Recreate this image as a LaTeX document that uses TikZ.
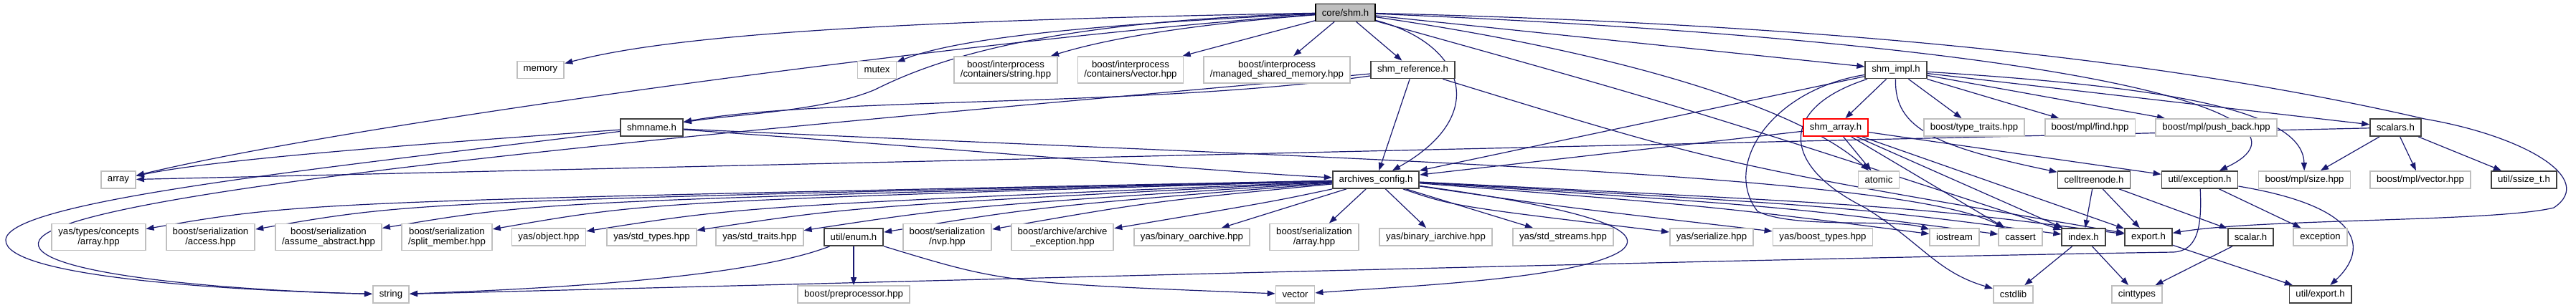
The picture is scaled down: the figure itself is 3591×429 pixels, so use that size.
\documentclass[tikz,border=0pt]{standalone}
\usepackage{fontspec}
\setmainfont{Liberation Sans}
\usetikzlibrary{arrows.meta,calc}
\pgfdeclarelayer{edges}
\pgfsetlayers{edges,main}

\definecolor{edgeblue}{HTML}{191970}
\definecolor{sysgray}{HTML}{BFBFBF}
\definecolor{docgray}{HTML}{404040}

\tikzset{
  file/.style={draw, fill=white, line width=1.8pt, inner xsep=9pt, inner ysep=0pt,
    minimum height=24pt, align=center, font=\fontsize{13.2}{13.8}\selectfont},
  sysfile/.style={file, draw=sysgray},
  docfile/.style={file, draw=docgray},
  twoline/.style={minimum height=37pt},
  edge/.style={draw=edgeblue, line width=1.2pt, -{Triangle[length=11pt,width=8pt]}}
}

\begin{document}
\begin{tikzpicture}[x=1pt,y=-1pt]
\useasboundingbox (0,0) rectangle (3591,429);

% row 1
\node[docfile, draw=black, fill=sysgray] (cs) at (1875.5,17.5) {core/shm.h};

% row 2
\node[sysfile] (memory) at (753.5,97.5) {memory};
\node[sysfile] (mutex) at (1222.5,97.5) {mutex};
\node[sysfile, twoline] (ipstring) at (1402,97.5) {boost/interprocess\\/containers/string.hpp};
\node[sysfile, twoline] (ipvector) at (1576,97.5) {boost/interprocess\\/containers/vector.hpp};
\node[sysfile, twoline] (ipmanaged) at (1780,97.5) {boost/interprocess\\/managed\_shared\_memory.hpp};
\node[docfile] (shmref) at (1969.5,97.5) {shm\_reference.h};
\node[docfile] (shmimpl) at (2643,97.5) {shm\_impl.h};

% row 3
\node[docfile] (shmname) at (908.5,178) {shmname.h};
\node[file, draw=red] (shmarray) at (2559,178) {shm\_array.h};
\node[sysfile] (typetraits) at (2752,178) {boost/type\_traits.hpp};
\node[sysfile] (mplfind) at (2913.5,178) {boost/mpl/find.hpp};
\node[sysfile] (pushback) at (3089.5,178) {boost/mpl/push\_back.hpp};
\node[docfile] (scalars) at (3339.5,178) {scalars.h};

% row 4
\node[sysfile] (array) at (165,251) {array};
\node[docfile] (archcfg) at (1918,251) {archives\_config.h};
\node[sysfile] (atomic) at (2619,251) {atomic};
\node[docfile] (celltree) at (2919,251) {celltreenode.h};
\node[docfile] (exch) at (3066.5,251) {util/exception.h};
\node[sysfile] (mplsize) at (3212.5,251) {boost/mpl/size.hpp};
\node[sysfile] (mplvector) at (3374,251) {boost/mpl/vector.hpp};
\node[docfile] (ssize) at (3518.5,251) {util/ssize\_t.h};

% row 5
\node[sysfile, twoline] (concepts) at (137.5,331) {yas/types/concepts\\/array.hpp};
\node[sysfile, twoline] (seraccess) at (293.5,331) {boost/serialization\\/access.hpp};
\node[sysfile, twoline] (serabstract) at (458,331) {boost/serialization\\/assume\_abstract.hpp};
\node[sysfile, twoline] (sersplit) at (623,331) {boost/serialization\\/split\_member.hpp};
\node[sysfile] (yasobject) at (765,331) {yas/object.hpp};
\node[sysfile] (stdtypes) at (908.5,331) {yas/std\_types.hpp};
\node[sysfile] (stdtraits) at (1059,331) {yas/std\_traits.hpp};
\node[docfile] (enumh) at (1190,331) {util/enum.h};
\node[sysfile, twoline] (nvp) at (1320.5,331) {boost/serialization\\/nvp.hpp};
\node[sysfile, twoline] (archexc) at (1481,331) {boost/archive/archive\\\_exception.hpp};
\node[sysfile] (oarchive) at (1661.5,331) {yas/binary\_oarchive.hpp};
\node[sysfile, twoline] (serarray) at (1832,331) {boost/serialization\\/array.hpp};
\node[sysfile] (iarchive) at (2001.5,331) {yas/binary\_iarchive.hpp};
\node[sysfile] (streams) at (2179,331) {yas/std\_streams.hpp};
\node[sysfile] (serialize) at (2386,331) {yas/serialize.hpp};
\node[sysfile] (boosttypes) at (2541,331) {yas/boost\_types.hpp};
\node[sysfile] (iostream) at (2724.5,331) {iostream};
\node[sysfile] (cassert) at (2816.5,331) {cassert};
\node[docfile] (index) at (2904.5,331) {index.h};
\node[docfile] (exporth) at (2995,331) {export.h};
\node[docfile] (scalar) at (3137.5,331) {scalar.h};
\node[sysfile] (exception) at (3234.5,331) {exception};

% row 6
\node[sysfile] (string) at (545,411) {string};
\node[sysfile] (preproc) at (1190,411) {boost/preprocessor.hpp};
\node[sysfile] (vector) at (1805.5,411) {vector};
\node[sysfile] (cstdlib) at (2806.5,411) {cstdlib};
\node[sysfile] (cinttypes) at (2979,411) {cinttypes};
\node[docfile] (utilexport) at (3234.5,411) {util/export.h};

\begin{pgfonlayer}{edges}
% core/shm.h
\draw[edge] (cs) .. controls (1300,28) and (950,45) .. (memory);
\draw[edge] (cs) .. controls (1500,35) and (1330,55) .. (mutex);
\draw[edge] (cs) .. controls (1650,35) and (1540,55) .. (ipstring);
\draw[edge] (cs) -- (ipvector);
\draw[edge] (cs) -- (ipmanaged);
\draw[edge] (cs) -- (shmref);
\draw[edge] (cs) -- (shmimpl);
\draw[edge] (cs) .. controls (1450,30) and (1300,85) .. (1220,125) .. controls (1150,155) and (1020,160) .. (shmname);
\draw[edge] (cs) .. controls (1400,50) and (500,170) .. (array);
\draw[edge] (cs) .. controls (2040,60) and (2080,160) .. (archcfg);
\draw[edge] (cs) .. controls (2300,80) and (2520,160) .. (atomic);
\draw[edge] (cs) .. controls (2350,150) .. (index);
\draw[edge] (cs) .. controls (2900,60) and (3260,160) .. (exch);
\draw[edge] (cs) .. controls (2600,35) and (3050,90) .. (3380,166) .. controls (3520,190) and (3620,250) .. (3560,290) .. controls (3480,310) and (3150,305) .. (exporth);

% shm_reference.h
\draw[edge] (shmref) .. controls (1600,150) and (1150,135) .. (shmname);
\draw[edge] (shmref) .. controls (1300,160) and (100,255) .. (55,335) .. controls (30,380) and (300,405) .. (string);
\draw[edge] (shmref) -- (archcfg);
\draw[edge] (shmref) .. controls (2400,230) .. (exporth);

% shmname.h
\draw[edge] (shmname) .. controls (600,200) and (300,222) .. (array);
\draw[edge] (shmname) .. controls (450,235) and (10,280) .. (8,335) .. controls (6,385) and (300,405) .. (string);
\draw[edge] (shmname) .. controls (1300,205) and (1700,240) .. (archcfg);
\draw[edge] (shmname) .. controls (1800,220) and (2650,240) .. (cassert);

% shm_impl.h
\foreach \t in {shmarray,typetraits,mplfind,pushback,scalars,archcfg}
  \draw[edge] (shmimpl) -- (\t);
\draw[edge] (shmimpl) .. controls (2470,125) and (2400,230) .. (2450,295) .. controls (2500,320) and (2640,305) .. (iostream);
\draw[edge] (shmimpl) .. controls (2480,150) and (2480,230) .. (2600,290) .. controls (2680,340) and (2700,380) .. (cstdlib);
\draw[edge] (shmimpl) .. controls (2640,180) and (2700,205) .. (celltree);
\draw[edge] (shmimpl) .. controls (3000,120) and (3210,150) .. (mplsize);

% shm_array.h
\foreach \t in {atomic,archcfg,cassert,index,exporth,exch}
  \draw[edge] (shmarray) -- (\t);

% scalars.h
\foreach \t in {array,mplsize,mplvector,ssize}
  \draw[edge] (scalars) -- (\t);

% archives_config.h
\foreach \t in {concepts,seraccess,serabstract,sersplit,yasobject,stdtypes,stdtraits,enumh,nvp,archexc}
  \draw[edge] (archcfg) .. controls ($(\t.north east)+(220,-30)$) .. (\t);
\foreach \t in {oarchive,serarray,iarchive,streams}
  \draw[edge] (archcfg) -- (\t);
\foreach \t in {serialize,boosttypes,iostream,cassert,index,exporth}
  \draw[edge] (archcfg) .. controls ($(\t.north west)+(-300,-30)$) .. (\t);
\draw[edge] (archcfg) .. controls (2200,290) and (2300,320) .. (2260,350) .. controls (2200,390) and (1950,400) .. (vector);

% util/enum.h
\draw[edge] (enumh) .. controls (1050,385) and (800,402) .. (string);
\draw[edge] (enumh) -- (preproc);
\draw[edge] (enumh) .. controls (1400,395) .. (vector);

% util/exception.h
\draw[edge] (exch) .. controls (3070,320) and (3062,350) .. (3030,352) .. controls (2400,362) and (1200,395) .. (string);
\draw[edge] (exch) -- (exception);
\draw[edge] (exch) .. controls (3300,290) and (3300,350) .. (utilexport);

% celltreenode.h, index.h, export.h, scalar.h
\foreach \t in {index,exporth,scalar}
  \draw[edge] (celltree) -- (\t);
\draw[edge] (index) -- (cstdlib);
\draw[edge] (index) -- (cinttypes);
\draw[edge] (exporth) -- (utilexport);
\draw[edge] (scalar) -- (cinttypes);
\end{pgfonlayer}
\end{tikzpicture}
\end{document}
